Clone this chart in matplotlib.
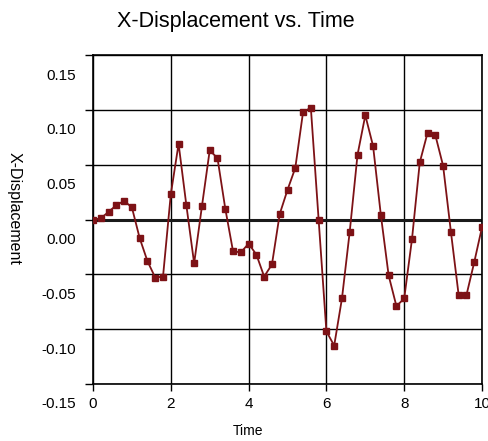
import matplotlib
matplotlib.use("Agg")
import matplotlib.pyplot as plt
import matplotlib.transforms as mtransforms
import numpy as np

plt.rcParams['font.family'] = ['Liberation Sans', 'DejaVu Sans']

# sample times (step 0.2) and read-off displacement values
time = [0.0, 0.2, 0.4, 0.6, 0.8, 1.0, 1.2, 1.4, 1.6, 1.8,
        2.0, 2.2, 2.4, 2.6, 2.8, 3.0, 3.2, 3.4, 3.6, 3.8,
        4.0, 4.2, 4.4, 4.6, 4.8, 5.0, 5.2, 5.4, 5.6, 5.8,
        6.0, 6.2, 6.4, 6.6, 6.8, 7.0, 7.2, 7.4, 7.6, 7.8,
        8.0, 8.2, 8.4, 8.6, 8.8, 9.0, 9.2, 9.4, 9.6, 9.8, 10.0]
x_disp = [0.000, 0.001, 0.007, 0.013, 0.017, 0.011, -0.017, -0.038, -0.053, -0.052,
          0.023, 0.069, 0.013, -0.040, 0.012, 0.063, 0.056, 0.010, -0.029, -0.030,
          -0.022, -0.032, -0.052, -0.041, 0.005, 0.027, 0.047, 0.098, 0.102, 0.000,
          -0.102, -0.115, -0.072, -0.011, 0.059, 0.095, 0.067, 0.004, -0.051, -0.079,
          -0.072, -0.018, 0.052, 0.079, 0.077, 0.049, -0.011, -0.069, -0.069, -0.039, -0.007]

x_ticks = [0, 2, 4, 6, 8, 10]
y_ticks = [-0.15, -0.10, -0.05, 0.00, 0.05, 0.10, 0.15]
y_labels = ['-0.15', '-0.10', '-0.05', '0.00', '0.05', '0.10', '0.15']

fig = plt.figure(figsize=(4.88, 4.41), dpi=100)
ax = fig.add_axes([93 / 488, 57 / 441, 389 / 488, 329 / 441])

ax.plot(time, x_disp, color='#7d1216', lw=1.3, marker='s', ms=4.6,
        mfc='#7d1216', mec='#7d1216', zorder=3)
ax.axhline(0, color='#1a1a1a', lw=2.2, zorder=2)

ax.set_xlim(0, 10)
ax.set_ylim(-0.15, 0.15)
ax.set_xticks(x_ticks)
ax.set_yticks(y_ticks)
ax.set_yticklabels(y_labels)
ax.grid(True, color='black', lw=1.0)
ax.set_axisbelow(True)

for s in ax.spines.values():
    s.set_color('black')
    s.set_linewidth(1.2)

ax.tick_params(axis='y', direction='out', length=6, width=1.0, pad=6, labelsize=11)
ax.tick_params(axis='x', direction='out', length=5, width=1.0, pad=4, labelsize=11)

# labels on the y axis sit below their grid lines in the original
offset = mtransforms.ScaledTranslation(0, -19 / 100, fig.dpi_scale_trans)
for lab in ax.get_yticklabels():
    lab.set_transform(lab.get_transform() + offset)

fig.text(236 / 488, 1 - 22 / 441, 'X-Displacement vs. Time', ha='center', va='center', fontsize=15.5)
fig.text(248 / 488, 1 - 431 / 441, 'Time', ha='center', va='center', fontsize=10)
fig.text(14 / 488, 1 - 208 / 441, 'X-Displacement', ha='center', va='center',
         rotation=-90, fontsize=11.5)

fig.savefig('out.png', dpi=100)
